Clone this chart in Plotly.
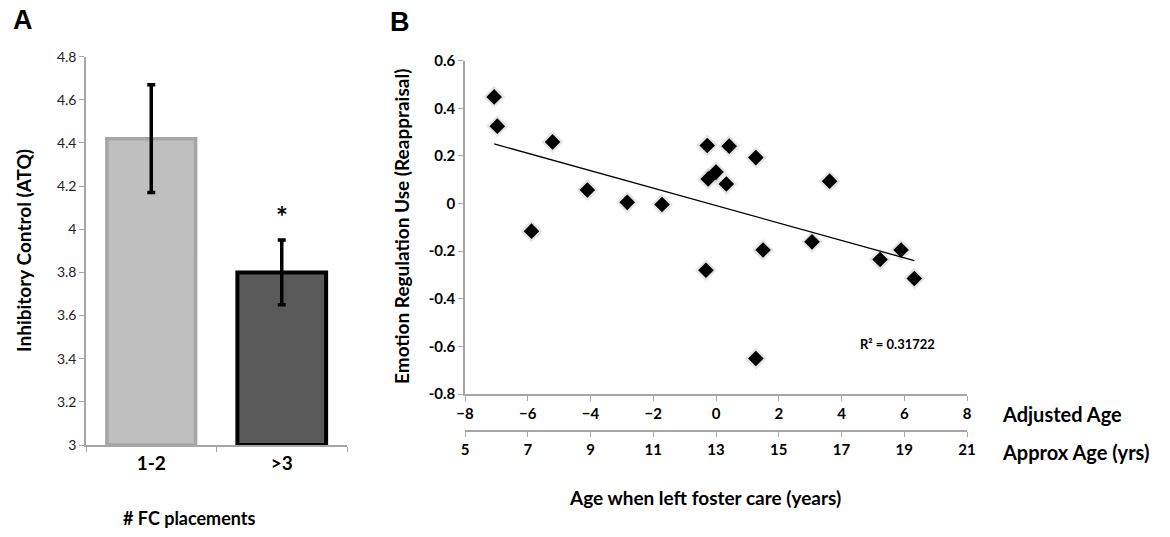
import numpy as np
import plotly.graph_objects as go

# ---------------- Data ----------------
# Panel A
placement_groups = ["1-2", ">3"]
inhibitory_control = [4.42, 3.80]
inhibitory_err = [0.25, 0.15]

# Panel B
adjusted_age = [-7.07, -6.97, -5.21, -5.88, -4.10, -2.83, -1.72, -0.28, -0.25, 0.00,
                0.42, 0.33, -0.32, 1.27, 1.50, 1.27, 3.62, 3.06, 5.23, 5.90, 6.32]
reappraisal = [0.448, 0.325, 0.259, -0.116, 0.057, 0.005, -0.004, 0.244, 0.103, 0.132,
               0.241, 0.082, -0.280, 0.193, -0.195, -0.651, 0.094, -0.161, -0.235, -0.195, -0.315]
adj_ticks = [-8, -6, -4, -2, 0, 2, 4, 6, 8]
approx_ticks = [5, 7, 9, 11, 13, 15, 17, 19, 21]
r2_text = "R² = 0.31722"

FONT = "Lato"
W, H = 1170, 537
AXIS_BASE = 3


def px_x(p):
    return p / W


def px_y(p):
    return 1 - p / H


fig = go.Figure()

# ---------- Panel A bars ----------
fig.add_trace(go.Bar(
    x=placement_groups, y=[v - AXIS_BASE for v in inhibitory_control], base=AXIS_BASE,
    width=0.68,
    marker=dict(color=["#bfbfbf", "#595959"],
                line=dict(color=["#a6a6a6", "#000000"], width=[3.5, 4])),
    error_y=dict(type="data", array=inhibitory_err, visible=True,
                 color="#000000", thickness=3.5, width=4),
    xaxis="x", yaxis="y", showlegend=False,
))

# ---------- Panel B scatter ----------
xa = np.array(adjusted_age)
ya = np.array(reappraisal)
slope, intercept = np.polyfit(xa, ya, 1)
xl = np.array([xa.min(), xa.max()])
yl = slope * xl + intercept

fig.add_trace(go.Scatter(
    x=adjusted_age, y=reappraisal, mode="markers",
    marker=dict(symbol="diamond", size=17, color="rgba(0,0,0,0.10)", line=dict(width=0)),
    xaxis="x2", yaxis="y2", showlegend=False, hoverinfo="skip"))
fig.add_trace(go.Scatter(
    x=list(xl), y=list(yl), mode="lines",
    line=dict(color="#000000", width=1.3),
    xaxis="x2", yaxis="y2", showlegend=False))
fig.add_trace(go.Scatter(
    x=adjusted_age, y=reappraisal, mode="markers",
    marker=dict(symbol="diamond", size=12, color="#000000", line=dict(width=0)),
    xaxis="x2", yaxis="y2", showlegend=False))
# invisible trace for secondary (approx age) axis
fig.add_trace(go.Scatter(
    x=[approx_ticks[0], approx_ticks[-1]], y=[0, 0], mode="markers",
    marker=dict(opacity=0), xaxis="x3", yaxis="y2", showlegend=False, hoverinfo="skip"))

axis_gray = "#a6a6a6"

# Panel A domains
xA = [px_x(86), px_x(347)]
yA = [px_y(445), px_y(56.7)]
# Panel B domains
xB = [px_x(465), px_x(967)]
yB = [px_y(394), px_y(60.7)]

fig.update_layout(
    width=W, height=H,
    margin=dict(l=0, r=0, t=0, b=0, autoexpand=False),
    paper_bgcolor="white", plot_bgcolor="white",
    font=dict(family=FONT, color="#000000"),
    showlegend=False,
    xaxis=dict(domain=xA, anchor="y", type="category", automargin=False,
               showline=True, linecolor=axis_gray, linewidth=1.5,
               ticks="outside", tickson="boundaries", ticklen=5, tickcolor=axis_gray,
               tickfont=dict(size=19, family=FONT, weight="bold"), showgrid=False),
    yaxis=dict(domain=yA, anchor="x", range=[3, 4.8], automargin=False,
               tickvals=[3, 3.2, 3.4, 3.6, 3.8, 4, 4.2, 4.4, 4.6, 4.8],
               ticktext=["3", "3.2", "3.4", "3.6", "3.8", "4", "4.2", "4.4", "4.6", "4.8"],
               showline=True, linecolor=axis_gray, linewidth=1.5,
               ticks="outside", ticklen=5, tickcolor=axis_gray, showgrid=False,
               tickfont=dict(size=14, family=FONT, color="#222222"), zeroline=False),
    xaxis2=dict(domain=xB, anchor="y2", range=[-8, 8], tickvals=adj_ticks, automargin=False,
                showline=True, linecolor=axis_gray, linewidth=1.5,
                ticks="outside", ticklen=5, tickcolor=axis_gray, showgrid=False, zeroline=False,
                tickfont=dict(size=15, family=FONT, weight="bold")),
    yaxis2=dict(domain=yB, anchor="x2", range=[-0.8, 0.6], automargin=False,
                tickvals=[-0.8, -0.6, -0.4, -0.2, 0, 0.2, 0.4, 0.6],
                ticktext=["-0.8", "-0.6", "-0.4", "-0.2", "0", "0.2", "0.4", "0.6"],
                showline=True, linecolor=axis_gray, linewidth=1.5,
                ticks="outside", ticklen=5, tickcolor=axis_gray, showgrid=False, zeroline=False,
                tickfont=dict(size=15, family=FONT, weight="bold")),
    xaxis3=dict(overlaying="x2", anchor="free", position=px_y(431), side="bottom", automargin=False,
                range=[approx_ticks[0], approx_ticks[-1]], tickvals=approx_ticks,
                showline=True, linecolor=axis_gray, linewidth=1.5,
                ticks="outside", ticklen=5, tickcolor=axis_gray, showgrid=False, zeroline=False,
                tickfont=dict(size=15, family=FONT, weight="bold")),
)

annotations = [
    dict(text="A", x=px_x(23), y=px_y(20), font=dict(size=27, family="Liberation Sans", weight="bold")),
    dict(text="B", x=px_x(400), y=px_y(22), font=dict(size=27, family="Liberation Sans", weight="bold")),
    dict(text="Inhibitory Control (ATQ)", x=px_x(23), y=px_y(251), textangle=-90,
         font=dict(size=19, family=FONT, weight="bold")),
    dict(text="# FC placements", x=px_x(189), y=px_y(518),
         font=dict(size=18, family=FONT, weight="bold")),
    dict(text="Emotion Regulation Use (Reappraisal)", x=px_x(401), y=px_y(227), textangle=-90,
         font=dict(size=19, family=FONT, weight="bold")),
    dict(text="Adjusted Age", x=px_x(1000), y=px_y(414), xanchor="left",
         font=dict(size=20, family=FONT, weight="bold")),
    dict(text="Approx Age (yrs)", x=px_x(1000), y=px_y(452), xanchor="left",
         font=dict(size=20, family=FONT, weight="bold")),
    dict(text="Age when left foster care (years)", x=px_x(705), y=px_y(497),
         font=dict(size=19, family=FONT, weight="bold")),
    dict(text=r2_text, x=px_x(897), y=px_y(344),
         font=dict(size=13, family=FONT, weight="bold")),
]
for a in annotations:
    a.setdefault("xref", "paper")
    a.setdefault("yref", "paper")
    a.setdefault("showarrow", False)
    a.setdefault("xanchor", "center")
    a.setdefault("yanchor", "middle")
fig.update_layout(annotations=annotations)

# asterisk above second bar (data-referenced)
fig.add_annotation(text="*", x=placement_groups[1], y=4.06, xref="x", yref="y",
                   showarrow=False, font=dict(size=28, family=FONT, weight="bold"))

fig.write_html("out.html",
               config={"displayModeBar": False},
               post_script="document.body.style.margin='0';document.body.style.overflow='hidden';")
